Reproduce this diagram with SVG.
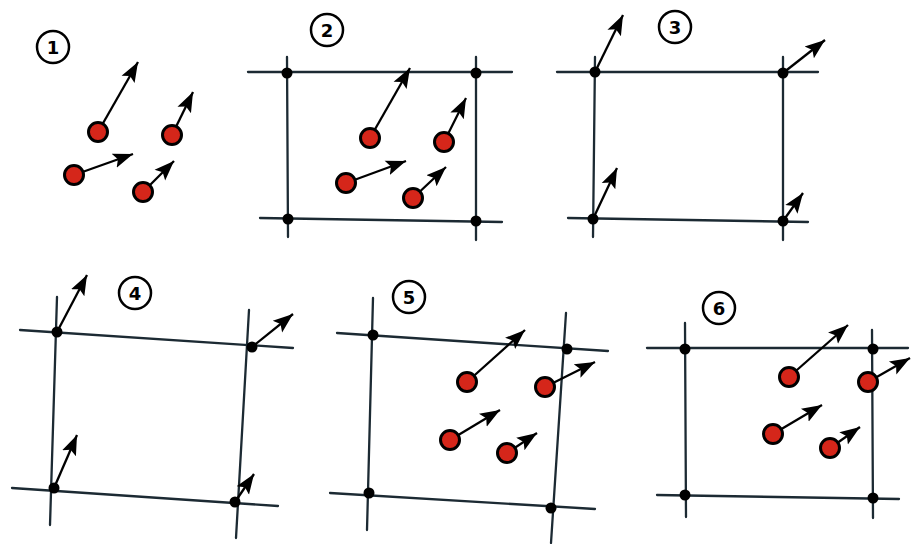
<svg xmlns="http://www.w3.org/2000/svg" width="911" height="544" viewBox="0 0 911 544">
<style>
.grid{stroke:#1c2a33;stroke-width:2.3;fill:none;stroke-linecap:round}
.vec{stroke:#000;stroke-width:2.3;fill:none;marker-end:url(#ah)}
.gn{fill:#000}
.pt{fill:#d5261a;stroke:#000;stroke-width:3}
.lbl circle{fill:#fff;stroke:#000;stroke-width:2.5}
.lbl text{font-family:"DejaVu Sans",sans-serif;font-size:18px;font-weight:bold;text-anchor:middle;fill:#000}
</style>
<defs>
<marker id="ah" markerUnits="userSpaceOnUse" markerWidth="22" markerHeight="18" viewBox="0 0 22 18" refX="20" refY="9" orient="auto">
<path d="M0,1.5 L20,9 L0,16.5 L4,9 Z" fill="#000"/>
</marker>
</defs>
<rect width="911" height="544" fill="#fff"/>

<!-- Panel 1 -->
<g id="panel1">
<g id="label1" class="lbl"><circle cx="53" cy="47" r="16"/><text x="53" y="53.5">1</text></g>
<g id="p1-connectors">
<line class="vec" x1="98" y1="132" x2="138" y2="62"/>
<line class="vec" x1="172" y1="135" x2="193" y2="92"/>
<line class="vec" x1="74" y1="175" x2="133" y2="154"/>
<line class="vec" x1="143" y1="192" x2="174" y2="161"/>
</g>
<g id="p1-a"><circle class="pt" cx="98" cy="132" r="9.5"/></g>
<g id="p1-b"><circle class="pt" cx="172" cy="135" r="9.5"/></g>
<g id="p1-c"><circle class="pt" cx="74" cy="175" r="9.5"/></g>
<g id="p1-d"><circle class="pt" cx="143" cy="192" r="9.5"/></g>
</g>

<!-- Panel 2 -->
<g id="panel2">
<g id="label2" class="lbl"><circle cx="327" cy="30" r="16"/><text x="327" y="36.5">2</text></g>
<g id="p2-connectors">
<line class="grid" x1="248" y1="72" x2="512" y2="72"/>
<line class="grid" x1="260" y1="218" x2="502" y2="222"/>
<line class="grid" x1="287" y1="57" x2="288" y2="237"/>
<line class="grid" x1="476" y1="57" x2="476" y2="240"/>
<line class="vec" x1="370" y1="138" x2="410" y2="68"/>
<line class="vec" x1="444" y1="142" x2="466" y2="98"/>
<line class="vec" x1="346" y1="183" x2="406" y2="161"/>
<line class="vec" x1="413" y1="198" x2="446" y2="167"/>
</g>
<g id="p2-n1"><circle class="gn" cx="287" cy="73" r="5.5"/></g>
<g id="p2-n2"><circle class="gn" cx="476" cy="73" r="5.5"/></g>
<g id="p2-n3"><circle class="gn" cx="288" cy="219" r="5.5"/></g>
<g id="p2-n4"><circle class="gn" cx="476" cy="221" r="5.5"/></g>
<g id="p2-a"><circle class="pt" cx="370" cy="138" r="9.5"/></g>
<g id="p2-b"><circle class="pt" cx="444" cy="142" r="9.5"/></g>
<g id="p2-c"><circle class="pt" cx="346" cy="183" r="9.5"/></g>
<g id="p2-d"><circle class="pt" cx="413" cy="198" r="9.5"/></g>
</g>

<!-- Panel 3 -->
<g id="panel3">
<g id="label3" class="lbl"><circle cx="675" cy="27" r="16"/><text x="675" y="33.5">3</text></g>
<g id="p3-connectors">
<line class="grid" x1="557" y1="72" x2="818" y2="72"/>
<line class="grid" x1="568" y1="218" x2="808" y2="222"/>
<line class="grid" x1="595" y1="57" x2="593" y2="237"/>
<line class="grid" x1="783" y1="57" x2="783" y2="240"/>
<line class="vec" x1="595" y1="72" x2="623" y2="15"/>
<line class="vec" x1="783" y1="73" x2="825" y2="40"/>
<line class="vec" x1="593" y1="219" x2="617" y2="168"/>
<line class="vec" x1="783" y1="221" x2="803" y2="193"/>
</g>
<g id="p3-n1"><circle class="gn" cx="595" cy="72" r="5.5"/></g>
<g id="p3-n2"><circle class="gn" cx="783" cy="73" r="5.5"/></g>
<g id="p3-n3"><circle class="gn" cx="593" cy="219" r="5.5"/></g>
<g id="p3-n4"><circle class="gn" cx="783" cy="221" r="5.5"/></g>
</g>

<!-- Panel 4 -->
<g id="panel4">
<g id="label4" class="lbl"><circle cx="135" cy="293" r="16"/><text x="135" y="299.5">4</text></g>
<g id="p4-connectors">
<line class="grid" x1="20" y1="330" x2="293" y2="348"/>
<line class="grid" x1="12" y1="488" x2="278" y2="506"/>
<line class="grid" x1="57" y1="297" x2="50" y2="525"/>
<line class="grid" x1="249" y1="310" x2="236" y2="538"/>
<line class="vec" x1="57" y1="332" x2="87" y2="275"/>
<line class="vec" x1="252" y1="347" x2="293" y2="314"/>
<line class="vec" x1="54" y1="488" x2="77" y2="435"/>
<line class="vec" x1="235" y1="502" x2="254" y2="474"/>
</g>
<g id="p4-n1"><circle class="gn" cx="57" cy="332" r="5.5"/></g>
<g id="p4-n2"><circle class="gn" cx="252" cy="347" r="5.5"/></g>
<g id="p4-n3"><circle class="gn" cx="54" cy="488" r="5.5"/></g>
<g id="p4-n4"><circle class="gn" cx="235" cy="502" r="5.5"/></g>
</g>

<!-- Panel 5 -->
<g id="panel5">
<g id="label5" class="lbl"><circle cx="409" cy="297" r="16"/><text x="409" y="303.5">5</text></g>
<g id="p5-connectors">
<line class="grid" x1="337" y1="333" x2="608" y2="351"/>
<line class="grid" x1="330" y1="493" x2="595" y2="509"/>
<line class="grid" x1="373" y1="298" x2="367" y2="530"/>
<line class="grid" x1="566" y1="313" x2="551" y2="543"/>
<line class="vec" x1="467" y1="382" x2="525" y2="330"/>
<line class="vec" x1="545" y1="387" x2="595" y2="362"/>
<line class="vec" x1="450" y1="440" x2="500" y2="410"/>
<line class="vec" x1="507" y1="453" x2="537" y2="433"/>
</g>
<g id="p5-n1"><circle class="gn" cx="373" cy="335" r="5.5"/></g>
<g id="p5-n2"><circle class="gn" cx="567" cy="349" r="5.5"/></g>
<g id="p5-n3"><circle class="gn" cx="369" cy="493" r="5.5"/></g>
<g id="p5-n4"><circle class="gn" cx="551" cy="508" r="5.5"/></g>
<g id="p5-a"><circle class="pt" cx="467" cy="382" r="9.5"/></g>
<g id="p5-b"><circle class="pt" cx="545" cy="387" r="9.5"/></g>
<g id="p5-c"><circle class="pt" cx="450" cy="440" r="9.5"/></g>
<g id="p5-d"><circle class="pt" cx="507" cy="453" r="9.5"/></g>
</g>

<!-- Panel 6 -->
<g id="panel6">
<g id="label6" class="lbl"><circle cx="719" cy="308" r="16"/><text x="719" y="314.5">6</text></g>
<g id="p6-connectors">
<line class="grid" x1="647" y1="348" x2="908" y2="348"/>
<line class="grid" x1="657" y1="495" x2="899" y2="499"/>
<line class="grid" x1="685" y1="323" x2="686" y2="517"/>
<line class="grid" x1="872" y1="330" x2="873" y2="518"/>
<line class="vec" x1="789" y1="377" x2="848" y2="325"/>
<line class="vec" x1="868" y1="382" x2="910" y2="358"/>
<line class="vec" x1="773" y1="434" x2="822" y2="405"/>
<line class="vec" x1="830" y1="448" x2="860" y2="427"/>
</g>
<g id="p6-n1"><circle class="gn" cx="685" cy="349" r="5.5"/></g>
<g id="p6-n2"><circle class="gn" cx="873" cy="349" r="5.5"/></g>
<g id="p6-n3"><circle class="gn" cx="685" cy="495" r="5.5"/></g>
<g id="p6-n4"><circle class="gn" cx="873" cy="498" r="5.5"/></g>
<g id="p6-a"><circle class="pt" cx="789" cy="377" r="9.5"/></g>
<g id="p6-b"><circle class="pt" cx="868" cy="382" r="9.5"/></g>
<g id="p6-c"><circle class="pt" cx="773" cy="434" r="9.5"/></g>
<g id="p6-d"><circle class="pt" cx="830" cy="448" r="9.5"/></g>
</g>
</svg>
